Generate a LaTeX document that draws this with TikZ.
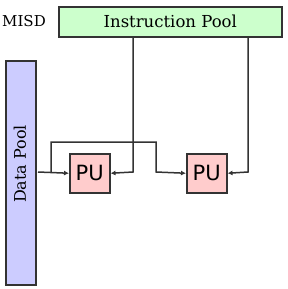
\documentclass[tikz,border=0pt]{standalone}
\usepackage{fontspec}
\setmainfont{DejaVu Serif}
\newfontfamily\pufont{DejaVu Sans}
\usetikzlibrary{arrows.meta}
\definecolor{ipool}{HTML}{CCFFCC}
\definecolor{dpool}{HTML}{CCCCFF}
\definecolor{pufill}{HTML}{FFCCCC}
\definecolor{linec}{HTML}{333333}
\begin{document}
\begin{tikzpicture}[x=1pt,y=-1pt,
  box/.style={draw=linec,line width=1.5pt,inner sep=0pt,anchor=north west},
  pubox/.style={box,fill=pufill,minimum width=40pt,minimum height=39pt,font=\pufont\fontsize{21}{21}\selectfont},
  conn/.style={draw=linec,line width=1.5pt,-{Latex[length=5pt,width=5pt]}}]
\useasboundingbox (0,0) rectangle (287,289);
\node[box,fill=ipool,minimum width=223pt,minimum height=30pt,font=\fontsize{16.5}{16.5}\selectfont] (ip) at (58,6) {Instruction Pool};
\node[font=\fontsize{15}{15}\selectfont,anchor=west,inner sep=0pt] (misd) at (2,21) {MISD};
\node[box,fill=dpool,minimum width=30pt,minimum height=224pt] (dp) at (5,60) {};
\node[rotate=90,font=\fontsize{16}{16}\selectfont,inner sep=0pt] (dpl) at (20,164) {Data Pool};
\node[pubox] (pu1) at (69,153) {PU};
\node[pubox] (pu2) at (186,153) {PU};
\coordinate (s) at (38,172);
\coordinate (b) at (51,172);
\draw[conn] (s) -- (pu1.west);
\draw[conn] (b) -- (51,142) -- (156,142) -- (156,172) -- (pu2.west);
\draw[conn] (133,36) -- (133,172) -- (pu1.east);
\draw[conn] (248,36) -- (248,172) -- (pu2.east);
\end{tikzpicture}
\end{document}
